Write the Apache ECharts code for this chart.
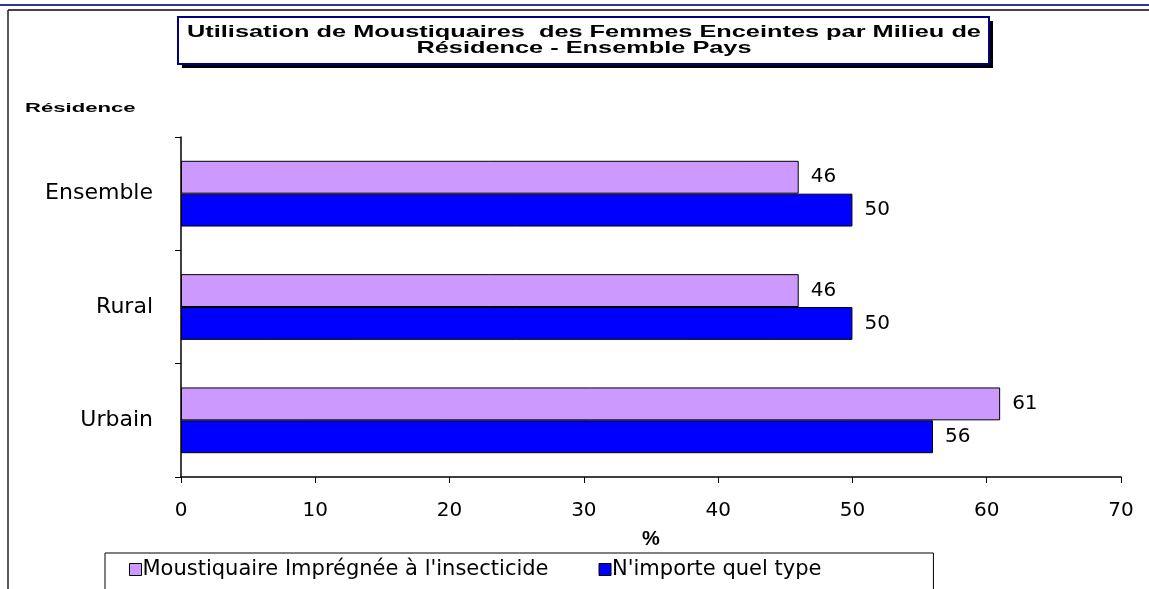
<!DOCTYPE html>
<html>
<head>
<meta charset="utf-8">
<script src="https://cdn.jsdelivr.net/npm/echarts@6/dist/echarts.min.js"></script>
<style>
  html, body { margin: 0; padding: 0; background: #fff; }
  #chart { width: 1149px; height: 589px; }
</style>
</head>
<body>
<div id="chart"></div>
<script>
// données (ordre de bas en haut)
const categories = ['Urbain', 'Rural', 'Ensemble']
const impregnee = [61, 46, 46]
const nimporte = [56, 50, 50]
const seriesNames = ["Moustiquaire Imprégnée à l'insecticide", "N'importe quel type"]
const titleLines = ['Utilisation de Moustiquaires  des Femmes Enceintes par Milieu de', 'Résidence - Ensemble Pays']

const font = '"Liberation Sans", Arial, sans-serif'
const wide = '"DejaVu Sans", "Liberation Sans", sans-serif'
const chart = echarts.init(document.getElementById('chart'))

const barLabel = {
  show: true,
  position: 'right',
  distance: 12,
  color: '#000',
  fontSize: 20,
  fontFamily: wide
}

const option = {
  animation: false,
  backgroundColor: '#fff',
  textStyle: { fontFamily: wide },
  graphic: [
    // cadre
    { type: 'line', shape: { x1: 0, y1: 5, x2: 1149, y2: 5 }, style: { stroke: '#33339a', lineWidth: 2 } },
    { type: 'line', shape: { x1: 8, y1: 10, x2: 1149, y2: 10 }, style: { stroke: '#444', lineWidth: 2 } },
    { type: 'line', shape: { x1: 8, y1: 10, x2: 8, y2: 589 }, style: { stroke: '#222', lineWidth: 1.5 } },
    // boîte du titre avec ombre
    { type: 'rect', shape: { x: 182, y: 21, width: 811, height: 47 }, style: { fill: '#000' } },
    { type: 'rect', shape: { x: 178, y: 17, width: 811, height: 47 }, style: { fill: '#fff', stroke: '#000080', lineWidth: 2 } },
    {
      type: 'text', x: 584, y: 32, scaleX: 1.49,
      style: { text: titleLines[0], font: 'bold 17px ' + font, fill: '#000', align: 'center', verticalAlign: 'middle' }
    },
    {
      type: 'text', x: 584, y: 48, scaleX: 1.49,
      style: { text: titleLines[1], font: 'bold 17px ' + font, fill: '#000', align: 'center', verticalAlign: 'middle' }
    },
    {
      type: 'text', x: 25, y: 108, scaleX: 1.7,
      style: { text: 'Résidence', font: 'bold 13px ' + font, fill: '#000', verticalAlign: 'middle' }
    }
  ],
  legend: {
    left: 105,
    top: 553,
    padding: [6, 112, 12, 24],
    itemGap: 50,
    itemWidth: 12,
    itemHeight: 12,
    icon: 'rect',
    borderColor: '#000',
    borderWidth: 1,
    itemStyle: { borderColor: '#000', borderWidth: 1 },
    textStyle: { fontSize: 21, color: '#000', fontFamily: wide, padding: [0, 0, 0, -4] },
    data: seriesNames
  },
  grid: { left: 181, right: 28, top: 137, bottom: 112 },
  xAxis: {
    type: 'value',
    min: 0,
    max: 70,
    interval: 10,
    name: '%',
    nameLocation: 'middle',
    nameGap: 52,
    nameTextStyle: { fontSize: 20, fontWeight: 'bold', color: '#000', fontFamily: font },
    axisLine: { show: true, lineStyle: { color: '#000', width: 1.5 } },
    axisTick: { show: true, length: 6, inside: false, lineStyle: { color: '#000' } },
    axisLabel: { fontSize: 20, color: '#000', margin: 24, fontFamily: wide },
    splitLine: { show: false }
  },
  yAxis: {
    type: 'category',
    data: categories,
    axisLine: { show: true, lineStyle: { color: '#000', width: 1.5 } },
    axisTick: { show: true, length: 6, lineStyle: { color: '#000' } },
    axisLabel: { fontSize: 22, color: '#000', margin: 28, fontFamily: wide },
    splitLine: { show: false }
  },
  series: [
    {
      name: seriesNames[0],
      type: 'bar',
      data: impregnee,
      barGap: '0%',
      barCategoryGap: '42%',
      itemStyle: { color: '#cc99ff', borderColor: '#000', borderWidth: 1 },
      label: barLabel
    },
    {
      name: seriesNames[1],
      type: 'bar',
      data: nimporte,
      itemStyle: { color: '#0000ff', borderColor: '#000', borderWidth: 1 },
      label: barLabel
    }
  ]
}

chart.setOption(option)
</script>
</body>
</html>
